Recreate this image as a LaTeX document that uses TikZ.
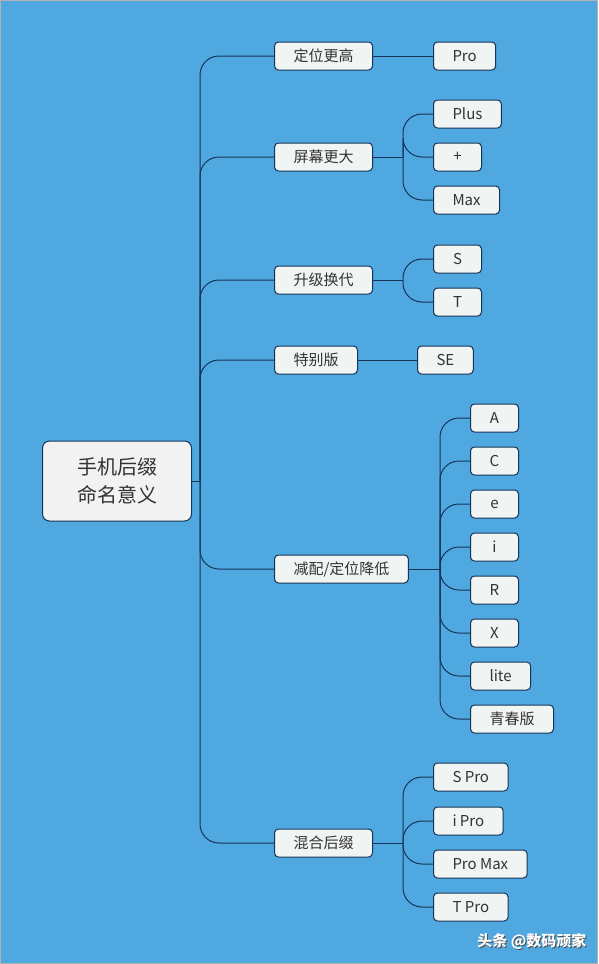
\documentclass[tikz,border=0pt]{standalone}
\usepackage{fontspec}
\newfontfamily\cjk{Noto Sans CJK SC}
\usepackage{tikz}
\definecolor{mapblue}{RGB}{80,168,224}
\definecolor{boxfill}{RGB}{240,244,242}
\definecolor{linenavy}{RGB}{22,52,88}
\tikzset{
  topicbox/.style = {shape=rectangle, rounded corners=4pt, draw=linenavy, line width=1pt,
    fill=boxfill, anchor=west, minimum height=28pt, minimum width=48pt,
    inner xsep=19pt, font=\cjk\fontsize{15}{17}\selectfont, text=black!80},
  branch/.style = {draw=linenavy, line width=1pt}
}
\newcommand{\linkto}[3]{% parent, spine x, child
  \draw[branch] (#1.east) -- (#2,0 |- #1.east);
  \draw[branch, rounded corners=19pt] (#2,0 |- #1.east) |- (#3.west);}
\begin{document}
\begin{tikzpicture}[x=1pt,y=-1pt]
\fill[mapblue] (0,0) rectangle (598,964);
\draw[black!30, line width=1pt] (0.5,0.5) rectangle (597.5,963.5);
% root
\node[topicbox, minimum width=149pt, minimum height=80pt, rounded corners=7pt,
  align=center, font=\cjk\fontsize{20}{28}\selectfont, fill=white!95!black] (root) at (42,481)
  {手机后缀\\命名意义};
% level one
\node[topicbox] (high)  at (274,56)  {定位更高};
\node[topicbox] (big)   at (274,157) {屏幕更大};
\node[topicbox] (gen)   at (274,280) {升级换代};
\node[topicbox] (spec)  at (274,360) {特别版};
\node[topicbox] (low)   at (274,569) {减配/定位降低};
\node[topicbox] (mix)   at (274,843) {混合后缀};
% level two
\node[topicbox] (pro)   at (433,56)  {Pro};
\node[topicbox] (plus)  at (433,114) {Plus};
\node[topicbox] (pl)    at (433,157) {+};
\node[topicbox] (max)   at (433,200) {Max};
\node[topicbox] (s)     at (433,259) {S};
\node[topicbox] (t)     at (433,302) {T};
\node[topicbox] (se)    at (417,360) {SE};
\node[topicbox] (a)     at (470,418) {A};
\node[topicbox] (c)     at (470,461) {C};
\node[topicbox] (e)     at (470,504) {e};
\node[topicbox] (i)     at (470,547) {i};
\node[topicbox] (r)     at (470,590) {R};
\node[topicbox] (x)     at (470,633) {X};
\node[topicbox] (lite)  at (470,676) {lite};
\node[topicbox] (youth) at (470,719) {青春版};
\node[topicbox] (spro)  at (433,777) {S Pro};
\node[topicbox] (ipro)  at (433,821) {i Pro};
\node[topicbox] (pmax)  at (433,864) {Pro Max};
\node[topicbox] (tpro)  at (433,907) {T Pro};
% connectors
\foreach \k in {high,big,gen,spec,low,mix} {\linkto{root}{200}{\k}}
\draw[branch] (high.east) -- (pro.west);
\foreach \k in {plus,pl,max} {\linkto{big}{403}{\k}}
\foreach \k in {s,t} {\linkto{gen}{403}{\k}}
\draw[branch] (spec.east) -- (se.west);
\foreach \k in {a,c,e,i,r,x,lite,youth} {\linkto{low}{440}{\k}}
\foreach \k in {spro,ipro,pmax,tpro} {\linkto{mix}{403}{\k}}
% watermark
\node[font=\cjk\fontsize{15}{17}\selectfont\bfseries, text=black!70, anchor=east] at (591,942) {头条 @数码顽家};
\node[font=\cjk\fontsize{15}{17}\selectfont\bfseries, text=white, anchor=east] (mark) at (590,941) {头条 @数码顽家};
\end{tikzpicture}
\end{document}
